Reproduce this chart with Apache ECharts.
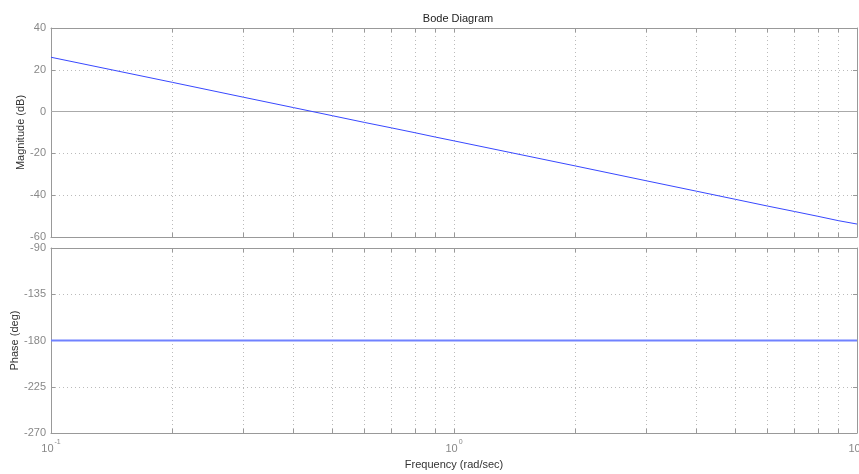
<!DOCTYPE html>
<html><head><meta charset="utf-8">
<script src="https://cdn.jsdelivr.net/npm/echarts@6/dist/echarts.min.js"></script>
<style>html,body{margin:0;padding:0;background:#fff}#c{width:859px;height:474px}</style>
</head><body><div id="c"></div>
<script>
// Frequencies (rad/sec) read at grid positions
var freq = [0.1,0.2,0.3,0.4,0.5,0.6,0.7,0.8,0.9,1,2,3,4,5,6,7,8,9,10];
// Magnitude (dB)
var magnitude = [26.0,14.0,6.9,1.9,-2.0,-5.2,-7.8,-10.1,-12.2,-14.0,-26.0,-33.1,-38.1,-42.0,-45.2,-47.8,-50.1,-52.2,-53.8];
// Phase (deg)
var phase = [-180,-180,-180,-180,-180,-180,-180,-180,-180,-180,-180,-180,-180,-180,-180,-180,-180,-180,-180];
var tickFreqs = [0.1,0.2,0.3,0.4,0.5,0.6,0.7,0.8,0.9,1,2,3,4,5,6,7,8,9,10];
var labelFreqs = [0.1,1,10];
var labelExp = {'0.1':'-1','1':'0','10':'1'};
var magTicks = {min:-60,max:40,interval:20};
var phaseTicks = {min:-270,max:-90,interval:45};

var gray = '#999';
var font = 'Liberation Sans, Arial, sans-serif';
function xAx(grid, pos, labels){
  return {
    type:'log', logBase:10, min:0.1, max:10, gridIndex:grid, position:pos,
    axisLine:{show:true,onZero:false,lineStyle:{color:gray,width:1}},
    axisTick:{show:true,inside:true,length:4,customValues:tickFreqs,lineStyle:{color:gray}},
    axisLabel:{show:labels,customValues:labelFreqs,margin:5,
      formatter:function(v){var k=String(+v.toPrecision(3));return '{b|10}{s|'+(labelExp[k]||'')+'}';},
      rich:{b:{fontSize:11,color:'#888',fontFamily:font,lineHeight:16,verticalAlign:'bottom'},
            s:{fontSize:7,color:'#888',fontFamily:font,lineHeight:8,verticalAlign:'top',padding:[1,0,0,1]}}},
    splitLine:{show:pos==='bottom',lineStyle:{color:'#bbb',type:[1,3],width:1}},
    minorTick:{show:false}
  };
}
function yAx(grid, pos, t, labels, name, gap){
  return {
    type:'value', gridIndex:grid, position:pos, min:t.min, max:t.max, interval:t.interval,
    name: labels?name:'', nameLocation:'middle', nameGap:gap||30, nameRotate:90, nameMoveOverlap:false,
    nameTextStyle:{color:'#333',fontSize:11,fontFamily:font},
    axisLine:{show:true,lineStyle:{color:gray,width:1}},
    axisTick:{show:true,inside:true,length:4,lineStyle:{color:gray}},
    axisLabel:{show:labels,color:'#888',fontSize:11,fontFamily:font,margin:5},
    splitLine:{show:pos==='left',lineStyle:{color:'#bbb',type:[1,3],width:1}}
  };
}
var chart = echarts.init(document.getElementById('c'),null,{renderer:'canvas'});
chart.setOption({
  animation:false,
  backgroundColor:'#fff',
  title:{text:'Bode Diagram',left:453,top:8,textAlign:'center',textStyle:{fontSize:11,fontWeight:'normal',color:'#222',fontFamily:font}},
  grid:[{left:51,right:2,top:28,height:209,containLabel:false,outerBoundsMode:'none'},
        {left:51,right:2,top:248,height:185,containLabel:false,outerBoundsMode:'none'}],
  xAxis:[xAx(0,'bottom',false),xAx(0,'top',false),
         Object.assign(xAx(1,'bottom',true),{name:'Frequency (rad/sec)',nameLocation:'middle',nameGap:26,nameMoveOverlap:false,nameTextStyle:{color:'#333',fontSize:11,fontFamily:font}}),
         xAx(1,'top',false)],
  yAxis:[yAx(0,'left',magTicks,true,'Magnitude (dB)',25),yAx(0,'right',magTicks,false,''),
         yAx(1,'left',phaseTicks,true,'Phase (deg)',31),yAx(1,'right',phaseTicks,false,'')],
  series:[
    {type:'line',xAxisIndex:0,yAxisIndex:0,data:freq.map(function(f,i){return [f,magnitude[i]];}),
     showSymbol:false,lineStyle:{color:'#3848ff',width:1},z:5,
     markLine:{silent:true,symbol:'none',label:{show:false},lineStyle:{color:'#aaa',type:'solid',width:1},data:[{yAxis:0}]}},
    {type:'line',xAxisIndex:2,yAxisIndex:2,data:freq.map(function(f,i){return [f,phase[i]];}),
     showSymbol:false,lineStyle:{color:'#7082ff',width:2},z:5}
  ]
});
</script></body></html>
